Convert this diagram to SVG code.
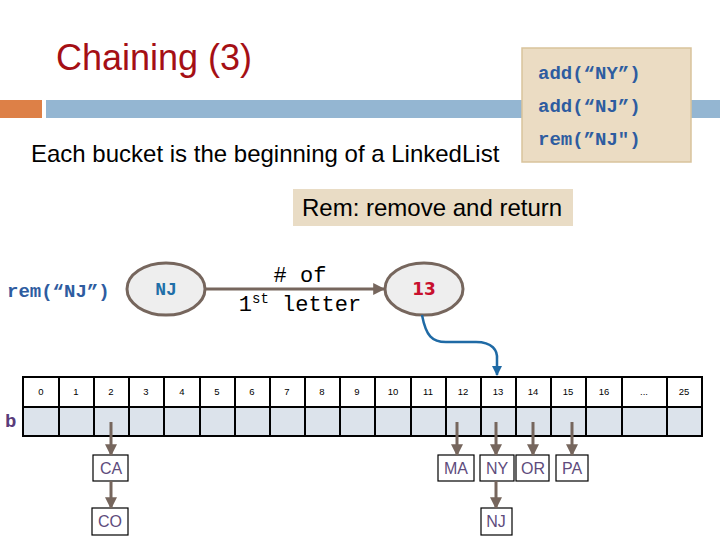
<svg xmlns="http://www.w3.org/2000/svg" width="720" height="540" viewBox="0 0 720 540">
<style>
.code{font-family:"Liberation Mono","DejaVu Sans Mono",monospace;font-weight:bold;fill:#2e5ca0;font-size:19px}
.sans{font-family:"Liberation Sans",Arial,sans-serif}
.idx{font-family:"Liberation Sans",Arial,sans-serif;font-size:9.5px;fill:#000;text-anchor:middle}
.cell{fill:#fff;stroke:#000;stroke-width:2}
.cell2{fill:#dce3eb;stroke:#000;stroke-width:2}
.node rect{fill:#fff;stroke:#000;stroke-width:1.2}
.node text{font-family:"Liberation Sans",Arial,sans-serif;font-size:16px;fill:#5e4b7c;text-anchor:middle}
.ptr{stroke:#76665d;stroke-width:3;fill:none;marker-end:url(#ah)}
.ell{fill:#eeeeee;stroke:#76665d;stroke-width:3}
</style>
<defs>
<marker id="ah" viewBox="0 0 10 10" refX="9" refY="5" markerWidth="4" markerHeight="4" orient="auto" markerUnits="strokeWidth">
<path d="M0,0 L10,5 L0,10 z" fill="#76665d"/>
</marker>
<marker id="ahb" viewBox="0 0 10 10" refX="9" refY="5" markerWidth="4" markerHeight="4" orient="auto" markerUnits="strokeWidth">
<path d="M0,0 L10,5 L0,10 z" fill="#1f6aa5"/>
</marker>
</defs>
<rect width="720" height="540" fill="#fff"/>
<g id="title">
<text x="56" y="70" class="sans" font-size="36" fill="#a50f15">Chaining (3)</text>
<rect x="0" y="100" width="42" height="18" fill="#dd8047"/>
<rect x="46" y="100" width="674" height="18" fill="#94b6d2"/>
</g>
<g id="ops">
<rect x="522" y="48" width="169" height="114" fill="#ebdcc3" stroke="#d9c39c" stroke-width="1.5"/>
<text x="538" y="79" class="code">add(“NY”)</text>
<text x="538" y="112" class="code">add(“NJ”)</text>
<text x="538" y="145" class="code">rem(”NJ")</text>
</g>
<text x="31" y="162" class="sans" font-size="24" fill="#000">Each bucket is the beginning of a LinkedList</text>
<g id="note">
<rect x="293" y="189" width="280" height="37" fill="#e9dcc5"/>
<text x="302" y="216" class="sans" font-size="24" fill="#000">Rem: remove and return</text>
</g>
<text x="7" y="297" class="code">rem(“NJ”)</text>
<g id="key">
<ellipse cx="166" cy="289" rx="39" ry="26" class="ell"/>
<text x="166" y="295" class="code" text-anchor="middle" style="fill:#1f6fa8;font-size:18px">NJ</text>
</g>
<g id="hash">
<ellipse cx="424" cy="289" rx="39" ry="26" class="ell"/>
<text x="424" y="295" font-family="DejaVu Sans,Verdana,sans-serif" font-size="17" font-weight="bold" fill="#c8102e" text-anchor="middle">13</text>
</g>
<g id="table">
<rect x="23" y="377" width="36" height="30" class="cell"/><rect x="59" y="377" width="35" height="30" class="cell"/><rect x="94" y="377" width="35" height="30" class="cell"/><rect x="129" y="377" width="35" height="30" class="cell"/><rect x="164" y="377" width="36" height="30" class="cell"/><rect x="200" y="377" width="35" height="30" class="cell"/><rect x="235" y="377" width="35" height="30" class="cell"/><rect x="270" y="377" width="35" height="30" class="cell"/><rect x="305" y="377" width="35" height="30" class="cell"/><rect x="340" y="377" width="35" height="30" class="cell"/><rect x="375" y="377" width="36" height="30" class="cell"/><rect x="411" y="377" width="35" height="30" class="cell"/><rect x="446" y="377" width="35" height="30" class="cell"/><rect x="481" y="377" width="35" height="30" class="cell"/><rect x="516" y="377" width="35" height="30" class="cell"/><rect x="551" y="377" width="35" height="30" class="cell"/><rect x="586" y="377" width="36" height="30" class="cell"/><rect x="622" y="377" width="45" height="30" class="cell"/><rect x="667" y="377" width="35" height="30" class="cell"/>
<rect x="23" y="407" width="36" height="29" class="cell2"/><rect x="59" y="407" width="35" height="29" class="cell2"/><rect x="94" y="407" width="35" height="29" class="cell2"/><rect x="129" y="407" width="35" height="29" class="cell2"/><rect x="164" y="407" width="36" height="29" class="cell2"/><rect x="200" y="407" width="35" height="29" class="cell2"/><rect x="235" y="407" width="35" height="29" class="cell2"/><rect x="270" y="407" width="35" height="29" class="cell2"/><rect x="305" y="407" width="35" height="29" class="cell2"/><rect x="340" y="407" width="35" height="29" class="cell2"/><rect x="375" y="407" width="36" height="29" class="cell2"/><rect x="411" y="407" width="35" height="29" class="cell2"/><rect x="446" y="407" width="35" height="29" class="cell2"/><rect x="481" y="407" width="35" height="29" class="cell2"/><rect x="516" y="407" width="35" height="29" class="cell2"/><rect x="551" y="407" width="35" height="29" class="cell2"/><rect x="586" y="407" width="36" height="29" class="cell2"/><rect x="622" y="407" width="45" height="29" class="cell2"/><rect x="667" y="407" width="35" height="29" class="cell2"/>
<text x="41" y="395" class="idx">0</text><text x="76" y="395" class="idx">1</text><text x="111" y="395" class="idx">2</text><text x="146" y="395" class="idx">3</text><text x="182" y="395" class="idx">4</text><text x="217" y="395" class="idx">5</text><text x="252" y="395" class="idx">6</text><text x="287" y="395" class="idx">7</text><text x="322" y="395" class="idx">8</text><text x="357" y="395" class="idx">9</text><text x="393" y="395" class="idx">10</text><text x="428" y="395" class="idx">11</text><text x="463" y="395" class="idx">12</text><text x="498" y="395" class="idx">13</text><text x="533" y="395" class="idx">14</text><text x="568" y="395" class="idx">15</text><text x="604" y="395" class="idx">16</text><text x="644" y="395" class="idx">...</text><text x="684" y="395" class="idx">25</text>
<text x="5" y="427" font-family="Liberation Mono,monospace" font-weight="bold" font-size="19" fill="#5a3c7a">b</text>
</g>
<g id="n-CA" class="node"><rect x="93" y="455" width="35" height="26"/><text x="111" y="474">CA</text></g>
<g id="n-CO" class="node"><rect x="92" y="508" width="36" height="27"/><text x="110" y="527">CO</text></g>
<g id="n-MA" class="node"><rect x="438" y="455" width="36" height="26"/><text x="456" y="474">MA</text></g>
<g id="n-NY" class="node"><rect x="480" y="455" width="34" height="26"/><text x="497" y="474">NY</text></g>
<g id="n-OR" class="node"><rect x="516" y="455" width="33" height="26"/><text x="533" y="474">OR</text></g>
<g id="n-PA" class="node"><rect x="556" y="455" width="32" height="26"/><text x="572" y="474">PA</text></g>
<g id="n-NJ" class="node"><rect x="481" y="508" width="31" height="27"/><text x="496" y="527">NJ</text></g>
<g id="connectors">
<line x1="205" y1="289" x2="384" y2="289" class="ptr"/>
<text x="300" y="282" font-family="Liberation Mono,monospace" font-size="22" fill="#000" text-anchor="middle"># of</text>
<text x="300" y="311" font-family="Liberation Mono,monospace" font-size="22" fill="#000" text-anchor="middle">1<tspan font-size="14" dy="-8">st</tspan><tspan dy="8"> letter</tspan></text>
<path d="M422,315 C426,336 432,342 446,342 L476,342 C492,342 498,350 497,360 L497,375" fill="none" stroke="#1f6aa5" stroke-width="2.5" marker-end="url(#ahb)"/>
<line x1="111" y1="422" x2="111" y2="455" class="ptr"/>
<line x1="111" y1="481" x2="111" y2="508" class="ptr"/>
<line x1="457" y1="422" x2="457" y2="455" class="ptr"/>
<line x1="496" y1="422" x2="496" y2="455" class="ptr"/>
<line x1="533" y1="422" x2="533" y2="455" class="ptr"/>
<line x1="572" y1="422" x2="572" y2="455" class="ptr"/>
<line x1="496" y1="481" x2="496" y2="508" class="ptr"/>
</g>
</svg>
